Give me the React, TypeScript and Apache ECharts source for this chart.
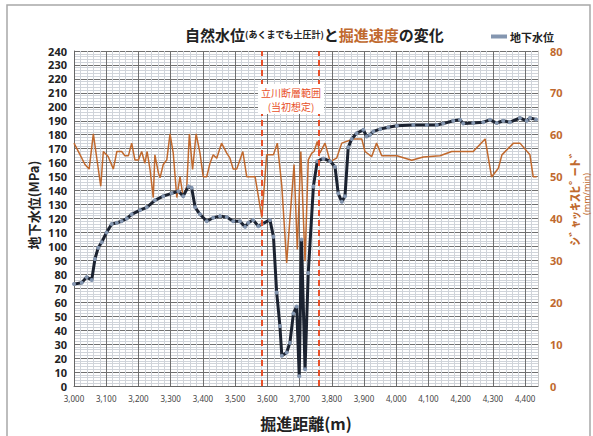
import React, { useEffect, useRef } from 'react';
import * as echarts from 'echarts';

const waterDist = [3000, 3024, 3039, 3055, 3065, 3075, 3086, 3101, 3117, 3133, 3148, 3164, 3179, 3205, 3226, 3251, 3277, 3303, 3324, 3339, 3355, 3365, 3376, 3391, 3412, 3432, 3453, 3474, 3494, 3515, 3531, 3541, 3556, 3572, 3583, 3608, 3619, 3629, 3639, 3645, 3660, 3670, 3681, 3691, 3699, 3706, 3717, 3727, 3743, 3755, 3774, 3795, 3810, 3820, 3831, 3841, 3851, 3862, 3877, 3898, 3908, 3919, 3929, 3950, 3975, 4002, 4053, 4095, 4126, 4146, 4177, 4198, 4208, 4239, 4270, 4291, 4312, 4332, 4353, 4384, 4405, 4415, 4434];
const waterLevel = [73, 74, 78, 76, 91, 99, 103, 110, 116, 117, 118, 120, 123, 126, 128, 133, 136, 138, 139.5, 136, 143, 142, 128, 123, 118, 120.5, 121.7, 121, 118, 118, 114, 117, 119, 114.5, 116, 119, 107, 67, 43, 21.6, 24, 31, 52, 57, 7, 105, 12, 81, 143, 161, 163, 161, 157, 138, 132, 136, 171, 177, 181, 183.6, 178.8, 180, 182.4, 184, 185.4, 186.4, 187, 187, 187, 188, 190, 190.7, 188, 188.4, 189, 190.7, 188.4, 190, 189, 192, 190, 192, 191];

const speedDist = [3000, 3019, 3034, 3047, 3060, 3070, 3083, 3091, 3106, 3122, 3133, 3148, 3158, 3169, 3179, 3189, 3200, 3210, 3220, 3227, 3236, 3246, 3251, 3262, 3267, 3277, 3288, 3298, 3308, 3319, 3329, 3339, 3350, 3358, 3368, 3379, 3391, 3401, 3412, 3422, 3432, 3443, 3458, 3474, 3484, 3494, 3505, 3524, 3536, 3552, 3562, 3567, 3583, 3598, 3619, 3631, 3645, 3660, 3670, 3683, 3693, 3704, 3717, 3727, 3738, 3745, 3755, 3763, 3779, 3795, 3815, 3831, 3867, 3893, 3903, 3924, 3939, 3955, 4002, 4048, 4084, 4136, 4172, 4239, 4276, 4296, 4317, 4328, 4364, 4384, 4415, 4425, 4436];
const speedValue = [58, 55.2, 52.9, 51.8, 60.2, 54.8, 47.7, 56, 54.8, 51.8, 56, 56, 55, 55, 58, 54, 54, 56, 53.2, 56, 51.7, 45, 55.2, 50.9, 49.7, 52.9, 54, 60.2, 55.6, 45, 50, 45, 47.7, 60.2, 51.7, 60.2, 55.6, 50, 50, 53.2, 55.2, 54.4, 58, 55.6, 54.4, 51.8, 51.8, 56, 50, 50, 50, 47.7, 40.2, 55.2, 55.2, 58, 47.7, 29.4, 39.8, 52.9, 32.6, 56, 29.8, 54, 55.6, 56, 58.4, 55.6, 58, 53.6, 54.4, 58, 59, 59, 56, 54.8, 58, 55, 55, 53.9, 54.7, 55, 56, 56, 59, 49.9, 52, 55.2, 58, 58, 55.2, 50, 50];

const faultRange = [3583, 3760];
const xMin = 3000;
const xMax = 4440;
const leftMax = 240;
const rightMax = 80;

const ORANGE = '#c0692e';
const RED = '#e8502a';

export default function App() {
  const ref = useRef<HTMLDivElement>(null);
  useEffect(() => {
    if (!ref.current) return;
    const chart = echarts.init(ref.current, null, { renderer: 'svg' });
    const waterData = waterDist.map((d, i) => [d, waterLevel[i]]);
    const speedData = speedDist.map((d, i) => [d, speedValue[i]]);
    const numFont = 'Noto Sans';
    const jpFont = 'Noto Sans CJK JP';
    chart.setOption({
      animation: false,
      backgroundColor: '#ffffff',
      title: {
        text: '{a|自然水位}{b|(あくまでも土圧計)}{a|と}{c|掘進速度}{a|の変化}',
        left: 180,
        top: 22,
        textStyle: {
          rich: {
            a: { fontSize: 15, fontWeight: 'bold', color: '#222', fontFamily: jpFont },
            b: { fontSize: 9, fontWeight: 'bold', color: '#222', fontFamily: jpFont },
            c: { fontSize: 15, fontWeight: 'bold', color: ORANGE, fontFamily: jpFont },
          },
        },
      },
      legend: {
        data: [{ name: '地下水位', icon: 'rect' }],
        left: 486,
        top: 26,
        itemWidth: 16,
        itemHeight: 4,
        itemGap: 3,
        textStyle: { fontSize: 11, fontWeight: 'bold', color: '#222', fontFamily: jpFont, padding: [0, 0, 0, -2] },
      },
      grid: { left: 74, right: 55, top: 51, bottom: 49 },
      xAxis: {
        type: 'value',
        min: xMin,
        max: xMax,
        interval: 100,
        axisLine: { show: true, lineStyle: { color: '#666', width: 1 } },
        axisTick: { show: false },
        axisLabel: {
          fontSize: 8,
          color: '#444',
          fontFamily: numFont,
          margin: 8,
          formatter: (v: number) => (v % 100 === 0 ? v.toLocaleString('en-US') : ''),
        },
        splitLine: { show: true, lineStyle: { color: '#707070', width: 1 } },
        minorTick: { show: false, splitNumber: 5 },
        minorSplitLine: { show: true, lineStyle: { color: '#d0d4da', width: 1 } },
        name: '掘進距離(m)',
        nameLocation: 'middle',
        nameGap: 29,
        nameTextStyle: { fontSize: 16, fontWeight: 'bold', color: '#222', fontFamily: jpFont },
      },
      yAxis: [
        {
          type: 'value',
          min: 0,
          max: leftMax,
          interval: 10,
          axisLine: { show: true, lineStyle: { color: '#666' } },
          axisTick: { show: false },
          axisLabel: { fontSize: 11, fontWeight: 'bold', color: '#222', fontFamily: numFont, margin: 7 },
          splitLine: { show: true, lineStyle: { color: '#707070', width: 1 } },
          minorTick: { show: false, splitNumber: 5 },
          minorSplitLine: { show: true, lineStyle: { color: '#d0d4da', width: 1 } },
        },
        {
          type: 'value',
          min: 0,
          max: rightMax,
          interval: 10,
          position: 'right',
          axisLine: { show: true, lineStyle: { color: '#c8c8c8' } },
          axisTick: { show: false },
          axisLabel: { fontSize: 11, fontWeight: 'bold', color: ORANGE, fontFamily: numFont, margin: 12 },
          splitLine: { show: false },
        },
      ],
      graphic: [
        {
          type: 'rect',
          z: 100,
          shape: { x: 7, y: 5, width: 583, height: 445 },
          style: { fill: 'none', stroke: '#a8a8a8', lineWidth: 1.5 },
          silent: true,
        },
        {
          type: 'rect',
          z: 100,
          shape: { x: 258, y: 84, width: 66, height: 30 },
          style: { fill: '#ffffff', stroke: 'none' },
        },
        {
          type: 'text',
          z: 101,
          x: 291,
          y: 92,
          style: { text: '立川断層範囲', fill: RED, fontSize: 10, lineHeight: 12, fontFamily: jpFont, align: 'center', verticalAlign: 'middle' },
        },
        {
          type: 'text',
          z: 101,
          x: 291,
          y: 106,
          style: { text: '(当初想定)', fill: RED, fontSize: 10, lineHeight: 12, fontFamily: jpFont, align: 'center', verticalAlign: 'middle' },
        },
        {
          type: 'text',
          z: 101,
          x: 33,
          y: 205,
          rotation: Math.PI / 2,
          style: { text: '地下水位(MPa)', fill: '#222', fontSize: 13, fontWeight: 'bold', fontFamily: jpFont, align: 'center', verticalAlign: 'middle' },
        },
        {
          type: 'text',
          z: 101,
          x: 575,
          y: 198,
          rotation: Math.PI / 2,
          scaleX: 1.45,
          style: { text: 'ｼﾞｬｯｷｽﾋﾟｰﾄﾞ', fill: ORANGE, fontSize: 12, lineHeight: 12, fontWeight: 'bold', fontFamily: jpFont, align: 'center', verticalAlign: 'middle' },
        },
        {
          type: 'text',
          z: 101,
          x: 586,
          y: 194,
          rotation: Math.PI / 2,
          style: { text: '(mm/min)', fill: ORANGE, fontSize: 9, lineHeight: 9, fontFamily: numFont, align: 'center', verticalAlign: 'middle' },
        },
      ],
      series: [
        {
          name: 'ジャッキスピード',
          type: 'line',
          yAxisIndex: 1,
          data: speedData,
          showSymbol: false,
          lineStyle: { color: ORANGE, width: 1.5 },
          itemStyle: { color: ORANGE },
          z: 2,
          markLine: {
            silent: true,
            symbol: 'none',
            label: { show: false },
            lineStyle: { color: RED, type: [6, 4], width: 2 },
            data: faultRange.map((v) => ({ xAxis: v })),
          },
        },
        {
          name: '地下水位',
          type: 'line',
          yAxisIndex: 0,
          data: waterData,
          symbol: 'circle',
          symbolSize: 4,
          showSymbol: true,
          lineStyle: { color: '#1b2230', width: 3 },
          itemStyle: { color: '#8496b0', borderWidth: 0 },
          z: 3,
        },
      ],
    });
    return () => chart.dispose();
  }, []);
  return <div ref={ref} style={{ position: 'fixed', left: 0, top: 0, width: 593, height: 436 }} />;
}
